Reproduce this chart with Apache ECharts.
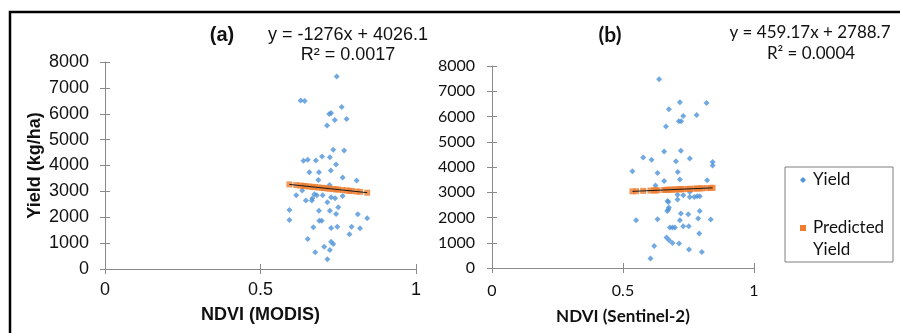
<!DOCTYPE html>
<html><head><meta charset="utf-8">
<script src="https://cdn.jsdelivr.net/npm/echarts@6/dist/echarts.min.js"></script>
<style>html,body{margin:0;padding:0;background:#fff}#c{width:900px;height:333px}</style>
</head><body><div id="c"></div>
<script>
// ---- data ----
const modisNdvi = [0.745,0.629,0.642,0.761,0.727,0.721,0.777,0.739,0.714,0.734,0.769,0.638,0.652,0.678,0.698,0.723,0.743,0.657,0.688,0.726,0.686,0.764,0.809,0.722,0.634,0.615,0.673,0.681,0.700,0.646,0.665,0.667,0.715,0.727,0.740,0.764,0.593,0.593,0.688,0.723,0.750,0.743,0.813,0.843,0.689,0.697,0.670,0.727,0.747,0.793,0.820,0.786,0.652,0.727,0.734,0.705,0.723,0.676,0.715];
const modisYield = [7442,6513,6490,6258,6026,5987,5793,5755,5546,4605,4578,4180,4218,4191,4346,4323,4036,3742,3742,3804,3444,3533,3417,3251,3030,2852,2891,2852,2852,2643,2643,2736,2581,2775,2736,2825,2283,1896,2256,2256,2388,2129,2117,1962,1869,1869,1614,1587,1637,1637,1575,1343,1161,1057,968,863,735,646,375];
const modisPredX = [0.593,0.615,0.629,0.638,0.646,0.657,0.667,0.676,0.686,0.697,0.705,0.715,0.723,0.734,0.743,0.750,0.764,0.777,0.786,0.793,0.809,0.820,0.843];
const modisPredY = [3269,3241,3224,3212,3202,3188,3175,3164,3151,3137,3127,3114,3104,3090,3078,3069,3051,3035,3023,3014,2994,2980,2950];

const s2Ndvi = [0.638,0.717,0.819,0.675,0.730,0.781,0.713,0.722,0.664,0.657,0.721,0.577,0.609,0.702,0.755,0.842,0.842,0.536,0.632,0.709,0.657,0.717,0.821,0.624,0.708,0.730,0.755,0.708,0.755,0.772,0.783,0.793,0.670,0.673,0.675,0.673,0.669,0.721,0.749,0.793,0.550,0.632,0.717,0.787,0.835,0.679,0.689,0.698,0.730,0.751,0.791,0.666,0.676,0.689,0.714,0.619,0.752,0.801,0.605];
const s2Yield = [7473,6562,6534,6285,6019,6059,5809,5809,5600,4609,4641,4372,4285,4225,4332,4198,4059,3829,3762,3798,3445,3501,3473,3263,2899,2879,3010,2709,2812,2812,2839,2839,2653,2614,2392,2313,2257,2154,2127,2257,1889,1929,1889,1956,1917,1600,1600,1600,1651,1651,1362,1204,1097,990,966,871,729,634,372];
const s2PredX = [0.536,0.550,0.577,0.605,0.619,0.624,0.632,0.657,0.664,0.670,0.679,0.689,0.698,0.709,0.717,0.722,0.730,0.749,0.755,0.772,0.783,0.793,0.801,0.819,0.835,0.842];
const s2PredY = [3035,3041,3054,3067,3073,3075,3079,3090,3094,3096,3101,3105,3109,3114,3118,3120,3124,3133,3135,3143,3148,3153,3157,3165,3172,3175];

const xTicks = {min:0, max:1, interval:0.5};
const yTicks = {min:0, max:8000, interval:1000};
const labelsA = {title:'(a)', eq:'y = -1276x + 4026.1', r2:'R² = 0.0017', xName:'NDVI (MODIS)', yName:'Yield (kg/ha)'};
const labelsB = {title:'(b)', eq:'y = 459.17x + 2788.7', r2:'R² = 0.0004', xName:'NDVI (Sentinel-2)'};
const legendNames = ['Yield', 'Predicted', 'Yield'];

// ---- build ----
const zip = (a,b) => a.map((v,i) => [v, b[i]]);
const BLUE = '#4f93d8', ORANGE = '#ed7d31', AXIS = '#8a8a8a';
const fA = 'Liberation Sans, Arial, sans-serif', fB = 'Lato, sans-serif';
const plain = v => String(v);

function xAx(g, font, fs, margin, name, nameFs, gap){
  return [{
    gridIndex:g, type:'value', min:xTicks.min, max:xTicks.max, interval:xTicks.interval, position:'bottom',
    axisLine:{onZero:false, lineStyle:{color:AXIS, width:1}},
    axisTick:{show:true, length:5, lineStyle:{color:AXIS}},
    splitLine:{show:false},
    axisLabel:{fontFamily:font, fontSize:fs, color:'#111', margin:margin, formatter:plain},
    name:name, nameLocation:'middle', nameGap:gap,
    nameTextStyle:{fontFamily:font, fontSize:nameFs, fontWeight:'bold', color:'#111'}
  },{
    gridIndex:g, type:'value', min:xTicks.min, max:xTicks.max, interval:xTicks.interval, position:'bottom',
    axisLine:{show:false, onZero:false}, axisTick:{show:true, inside:true, length:5, lineStyle:{color:AXIS}},
    axisLabel:{show:false}, splitLine:{show:false}
  }];
}
function yAx(g, font, fs, margin, name, nameFs, gap){
  return [{
    gridIndex:g, type:'value', min:yTicks.min, max:yTicks.max, interval:yTicks.interval, position:'left',
    axisLine:{show:true, onZero:false, lineStyle:{color:AXIS, width:1}},
    axisTick:{show:true, length:5, lineStyle:{color:AXIS}},
    splitLine:{show:false},
    axisLabel:{fontFamily:font, fontSize:fs, color:'#111', margin:margin, formatter:plain},
    name:name||'', nameLocation:'middle', nameGap:gap||0, nameRotate:90,
    nameTextStyle:{fontFamily:font, fontSize:nameFs||12, fontWeight:'bold', color:'#111'}
  },{
    gridIndex:g, type:'value', min:yTicks.min, max:yTicks.max, interval:yTicks.interval, position:'left',
    axisLine:{show:false, onZero:false}, axisTick:{show:true, inside:true, length:5, lineStyle:{color:AXIS}},
    axisLabel:{show:false}, splitLine:{show:false}
  }];
}

function seriesFor(xi, yi, xs, ys, px, py){
  const pred = zip(px, py);
  return [
    {type:'scatter', xAxisIndex:xi, yAxisIndex:yi, data:zip(xs, ys), symbol:'diamond', symbolSize:6,
     itemStyle:{color:BLUE}, silent:true, z:3},
    {type:'scatter', xAxisIndex:xi, yAxisIndex:yi, data:pred, symbol:'rect', symbolSize:6,
     itemStyle:{color:ORANGE}, silent:true, z:4},
    {type:'line', xAxisIndex:xi, yAxisIndex:yi, data:[pred[0], pred[pred.length-1]], symbol:'none',
     lineStyle:{color:'#1a1a1a', width:1}, silent:true, z:5}
  ];
}

const txt = (x,y,s,font,fs,bold) => ({type:'text', x:x, y:y, silent:true,
  style:{text:s, font:(bold?'bold ':'')+fs+'px '+font, fill:'#111', textAlign:'center', textVerticalAlign:'middle'}});

const option = {
  backgroundColor:'#fff',
  animation:false,
  grid:[{left:105, top:62, width:311, height:207}, {left:492, top:66, width:262, height:202}],
  xAxis:[...xAx(0, fA, 18, 12, labelsA.xName, 18, 37), ...xAx(1, fB, 16, 15, labelsB.xName, 17, 40)],
  yAxis:[...yAx(0, fA, 18, 16, labelsA.yName, 18, 61), ...yAx(1, fB, 16, 17)],
  series:[...seriesFor(0, 0, modisNdvi, modisYield, modisPredX, modisPredY),
          ...seriesFor(2, 2, s2Ndvi, s2Yield, s2PredX, s2PredY)],
  graphic:[
    {type:'rect', shape:{x:10, y:12, width:920, height:400}, style:{fill:'none', stroke:'#000', lineWidth:2.5}, silent:true},
    txt(222, 35, labelsA.title, fA, 20, true),
    txt(348, 35, labelsA.eq, fA, 18),
    txt(348, 55, labelsA.r2, fA, 18),
    txt(610, 35, labelsB.title, fB, 21, true),
    txt(810, 33, labelsB.eq, fB, 17),
    txt(811, 54, labelsB.r2, fB, 17),
    {type:'rect', shape:{x:785, y:167, width:108, height:95}, style:{fill:'#fff', stroke:'#7f7f7f', lineWidth:1}, silent:true},
    {type:'polygon', shape:{points:[[803,177],[806,180],[803,183],[800,180]]}, style:{fill:BLUE}, silent:true},
    {type:'rect', shape:{x:800, y:225, width:6, height:6}, style:{fill:ORANGE}, silent:true},
    {type:'text', x:813, y:180, silent:true, style:{text:legendNames[0], font:'17px '+fB, fill:'#111', textVerticalAlign:'middle'}},
    {type:'text', x:813, y:228, silent:true, style:{text:legendNames[1], font:'17px '+fB, fill:'#111', textVerticalAlign:'middle'}},
    {type:'text', x:813, y:250, silent:true, style:{text:legendNames[2], font:'17px '+fB, fill:'#111', textVerticalAlign:'middle'}}
  ]
};
echarts.init(document.getElementById('c')).setOption(option);
</script></body></html>
